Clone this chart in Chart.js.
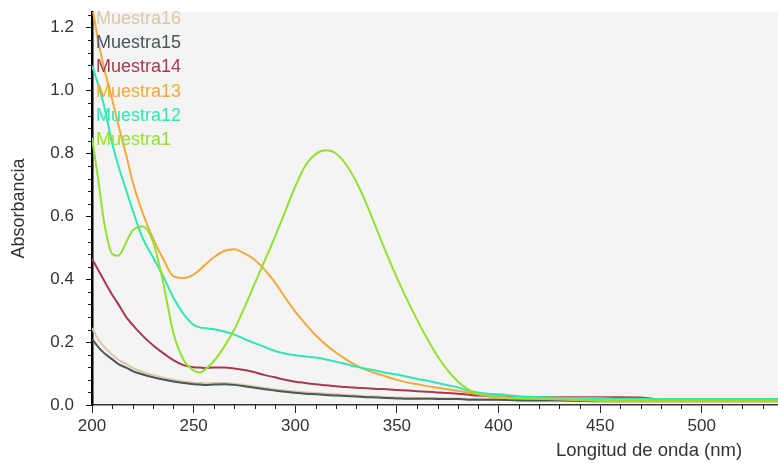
<!DOCTYPE html>
<html>
<head>
<meta charset="utf-8">
<title>Absorbancia</title>
<script src="https://cdn.jsdelivr.net/npm/chart.js@4.4.1/dist/chart.umd.min.js"></script>
<style>
  html, body { margin: 0; padding: 0; background: #fff; }
  canvas { display: block; }
</style>
</head>
<body>
<canvas id="espectro" width="778" height="463"></canvas>
<script>
// Longitud de onda (nm) shared by every series
const wavelengths = [200, 203, 206, 210, 213, 217, 220, 225, 230, 235, 240, 245, 250, 253, 256, 260, 265, 270, 275, 280,
  285, 290, 295, 300, 305, 310, 315, 320, 325, 330, 335, 340, 345, 350, 355, 360, 365, 370, 375, 380,
  385, 390, 395, 400, 410, 420, 430, 440, 450, 460, 470, 480, 490, 500, 510, 520, 530, 537.5];

const muestra1 = [0.85, 0.72, 0.58, 0.48, 0.475, 0.52, 0.555, 0.568, 0.52, 0.39, 0.23, 0.145, 0.11, 0.103, 0.115, 0.14, 0.185, 0.24, 0.31, 0.385,
  0.46, 0.535, 0.615, 0.695, 0.762, 0.798, 0.81, 0.80, 0.765, 0.71, 0.64, 0.56, 0.48, 0.405, 0.335, 0.27, 0.21, 0.155, 0.11, 0.075,
  0.05, 0.035, 0.03, 0.025, 0.022, 0.02, 0.018, 0.017, 0.016, 0.015, 0.014, 0.014, 0.014, 0.014, 0.014, 0.014, 0.014, 0.014];

const muestra12 = [1.08, 1.02, 0.95, 0.83, 0.76, 0.68, 0.62, 0.53, 0.47, 0.41, 0.342, 0.29, 0.255, 0.247, 0.244, 0.241, 0.234, 0.224, 0.21, 0.197,
  0.184, 0.172, 0.164, 0.158, 0.154, 0.151, 0.145, 0.138, 0.13, 0.122, 0.115, 0.109, 0.102, 0.097, 0.09, 0.083, 0.077, 0.07, 0.063, 0.056,
  0.046, 0.04, 0.036, 0.034, 0.028, 0.025, 0.023, 0.022, 0.022, 0.02, 0.02, 0.019, 0.019, 0.019, 0.019, 0.019, 0.019, 0.019];

const muestra13 = [1.27, 1.16, 1.07, 0.97, 0.89, 0.79, 0.71, 0.61, 0.53, 0.465, 0.41, 0.404, 0.415, 0.43, 0.448, 0.47, 0.49, 0.495, 0.482, 0.462,
  0.43, 0.39, 0.342, 0.297, 0.258, 0.222, 0.192, 0.167, 0.145, 0.126, 0.111, 0.10, 0.09, 0.08, 0.072, 0.066, 0.06, 0.055, 0.05, 0.045,
  0.04, 0.035, 0.03, 0.027, 0.022, 0.02, 0.018, 0.015, 0.013, 0.012, 0.012, 0.012, 0.012, 0.012, 0.012, 0.012, 0.012, 0.012];

const muestra14 = [0.465, 0.43, 0.395, 0.35, 0.32, 0.278, 0.255, 0.22, 0.19, 0.165, 0.143, 0.127, 0.12, 0.119, 0.118, 0.119, 0.119, 0.116, 0.111, 0.104,
  0.095, 0.088, 0.08, 0.074, 0.07, 0.066, 0.063, 0.06, 0.057, 0.055, 0.053, 0.051, 0.05, 0.048, 0.046, 0.044, 0.042, 0.04, 0.038, 0.036,
  0.033, 0.03, 0.028, 0.027, 0.025, 0.025, 0.025, 0.025, 0.025, 0.025, 0.024, 0.017, 0.017, 0.016, 0.016, 0.016, 0.016, 0.016];

const muestra15 = [0.21, 0.185, 0.165, 0.145, 0.13, 0.118, 0.108, 0.097, 0.088, 0.081, 0.075, 0.07, 0.066, 0.065, 0.064, 0.065, 0.066, 0.064, 0.06, 0.055,
  0.05, 0.046, 0.042, 0.039, 0.036, 0.034, 0.032, 0.03, 0.029, 0.027, 0.025, 0.024, 0.022, 0.021, 0.02, 0.02, 0.02, 0.019, 0.019, 0.019,
  0.017, 0.017, 0.017, 0.017, 0.014, 0.014, 0.014, 0.013, 0.012, 0.012, 0.012, 0.012, 0.012, 0.012, 0.012, 0.012, 0.012, 0.012];

const muestra16 = [0.245, 0.21, 0.185, 0.16, 0.143, 0.13, 0.118, 0.105, 0.095, 0.087, 0.08, 0.075, 0.071, 0.07, 0.069, 0.07, 0.07, 0.068, 0.064, 0.059,
  0.054, 0.05, 0.046, 0.043, 0.04, 0.038, 0.036, 0.034, 0.032, 0.03, 0.028, 0.027, 0.025, 0.024, 0.023, 0.023, 0.022, 0.022, 0.021, 0.021,
  0.019, 0.019, 0.019, 0.018, 0.016, 0.015, 0.015, 0.014, 0.013, 0.013, 0.013, 0.013, 0.013, 0.013, 0.013, 0.013, 0.013, 0.013];

// legend order, top to bottom
const seriesNames = ['Muestra16', 'Muestra15', 'Muestra14', 'Muestra13', 'Muestra12', 'Muestra1'];
const seriesValues = [muestra16, muestra15, muestra14, muestra13, muestra12, muestra1];
const seriesColors = ['#dcc6a6', '#47575a', '#a8394c', '#f2a93b', '#33e4b4', '#94e030'];

const fontName = "'Liberation Sans', Arial, sans-serif";

// Chart.js draws dataset 0 on top, so reverse: Muestra1 ends up above the rest
const datasets = seriesNames.map((name, i) => ({
  label: name,
  data: wavelengths.map((w, k) => ({ x: w, y: seriesValues[i][k] })),
  borderColor: seriesColors[i],
  borderWidth: 2,
  pointRadius: 0,
  fill: false,
  cubicInterpolationMode: 'monotone'
})).reverse();

const decor = {
  id: 'decor',
  beforeDraw(chart) {
    const { ctx, chartArea: a } = chart;
    ctx.save();
    ctx.fillStyle = '#f4f4f4';
    ctx.fillRect(a.left, a.top, a.right - a.left, a.bottom - a.top);
    ctx.restore();
  },
  afterDraw(chart) {
    const { ctx, chartArea: a, scales } = chart;
    const x = scales.x, y = scales.y;
    ctx.save();
    // minor ticks
    ctx.strokeStyle = '#222';
    ctx.lineWidth = 1;
    ctx.beginPath();
    for (let w = 210; w < 540; w += 10) {
      if (w % 50 === 0) continue;
      const px = Math.round(x.getPixelForValue(w)) + 0.5;
      ctx.moveTo(px, a.bottom);
      ctx.lineTo(px, a.bottom + 4);
    }
    for (let v = 0.04; v < 1.25; v += 0.04) {
      const r = Math.round(v * 100);
      if (r % 20 === 0) continue;
      const py = Math.round(y.getPixelForValue(v)) + 0.5;
      ctx.moveTo(a.left - 4, py);
      ctx.lineTo(a.left, py);
    }
    ctx.stroke();

    // legend: coloured names inside the plot
    ctx.font = '18px ' + fontName;
    ctx.textAlign = 'left';
    ctx.textBaseline = 'middle';
    seriesNames.forEach((name, i) => {
      ctx.fillStyle = seriesColors[i];
      ctx.fillText(name, a.left + 4, 19 + i * 24.2);
    });

    // x axis title, bottom right
    ctx.fillStyle = '#333';
    ctx.font = '18.5px ' + fontName;
    ctx.textAlign = 'center';
    ctx.fillText('Longitud de onda (nm)', 649, 451);
    ctx.restore();
  }
};

new Chart(document.getElementById('espectro'), {
  type: 'line',
  data: { datasets: datasets },
  options: {
    responsive: false,
    animation: false,
    devicePixelRatio: 1,
    layout: { padding: { top: 12, right: 0, left: 0, bottom: 0 } },
    plugins: {
      legend: { display: false },
      tooltip: { enabled: false }
    },
    scales: {
      x: {
        type: 'linear',
        min: 200,
        max: 537.5,
        ticks: {
          stepSize: 50,
          includeBounds: false,
          maxRotation: 0,
          padding: 3,
          color: '#333',
          font: { family: fontName, size: 17 },
          callback: v => v
        },
        grid: { drawOnChartArea: false, tickLength: 8, color: '#222' },
        border: { color: '#333', width: 1.5 },
        afterFit: s => { s.height = 58; s.paddingLeft = 0; s.paddingRight = 0; }
      },
      y: {
        min: 0,
        max: 1.25,
        ticks: {
          stepSize: 0.2,
          includeBounds: false,
          padding: 12,
          color: '#333',
          font: { family: fontName, size: 17 },
          callback: v => v.toFixed(1)
        },
        grid: { drawOnChartArea: false, tickLength: 6, color: '#111' },
        border: { color: '#000', width: 2.5 },
        title: {
          display: true,
          text: 'Absorbancia',
          color: '#333',
          font: { family: fontName, size: 18 },
          padding: { top: 8, bottom: 0 }
        },
        afterFit: s => { s.width = 92; s.paddingTop = 0; s.paddingBottom = 0; }
      }
    }
  },
  plugins: [decor]
});
</script>
</body>
</html>
